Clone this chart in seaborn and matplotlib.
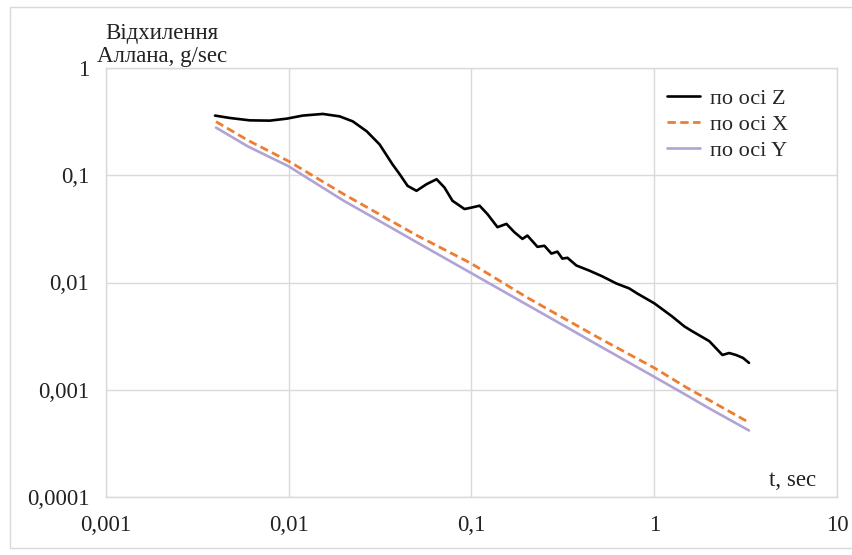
import numpy as np
import pandas as pd
import matplotlib
matplotlib.use('Agg')
import matplotlib.pyplot as plt
import seaborn as sns
from matplotlib.patches import Rectangle

# Allan deviation
tau_z = [0.00395, 0.00476, 0.00612, 0.00787, 0.00975, 0.01192, 0.01535, 0.019, 0.0224,
         0.0267, 0.0314, 0.037, 0.0405, 0.0447, 0.05, 0.0568, 0.0644, 0.0711, 0.0787,
         0.0916, 0.1012, 0.1107, 0.1222, 0.1387, 0.1553, 0.1718, 0.19, 0.2022, 0.2296,
         0.2506, 0.2737, 0.2951, 0.3142, 0.335, 0.375, 0.4416, 0.52, 0.62, 0.73, 0.807,
         1.0, 1.25, 1.46, 1.61, 2.0, 2.36, 2.57, 2.8, 3.06, 3.3]
dev_z = [0.360, 0.342, 0.325, 0.323, 0.337, 0.360, 0.373, 0.354, 0.318,
         0.257, 0.194, 0.126, 0.102, 0.0796, 0.0716, 0.0826, 0.0918, 0.0769, 0.0578,
         0.0484, 0.0502, 0.0520, 0.0435, 0.0328, 0.0352, 0.0294, 0.0255, 0.0274, 0.0215,
         0.0220, 0.0186, 0.0194, 0.0167, 0.0170, 0.0144, 0.0129, 0.0114, 0.0098, 0.0088,
         0.0079, 0.0064, 0.00484, 0.0039, 0.00352, 0.00284, 0.00211, 0.0022, 0.00211,
         0.00198, 0.00178]

tau_xy = [0.004, 0.006, 0.01, 0.02, 0.03, 0.05, 0.1, 0.2, 0.3, 0.5, 1.0, 1.5, 2.0, 3.3]
dev_x = [0.316, 0.211, 0.135, 0.0666, 0.0451, 0.0276, 0.0150, 0.0073, 0.00494, 0.00303,
         0.0016, 0.00105, 0.0008, 0.000495]
dev_y = [0.278, 0.185, 0.121, 0.0578, 0.0391, 0.0238, 0.0122, 0.00624, 0.00422, 0.00257,
         0.00132, 0.00089, 0.00067, 0.000417]

x_ticks = [0.001, 0.01, 0.1, 1, 10]
x_labels = ['0,001', '0,01', '0,1', '1', '10']
y_ticks = [0.0001, 0.001, 0.01, 0.1, 1]
y_labels = ['0,0001', '0,001', '0,01', '0,1', '1']

sns.set_style('white')
plt.rcParams['font.family'] = ['Liberation Serif', 'DejaVu Serif']

fig = plt.figure(figsize=(8.53, 5.55), dpi=100)
ax = fig.add_axes([106 / 853, 58 / 555, 731 / 853, 429 / 555])

sns.lineplot(x=tau_z, y=dev_z, ax=ax, color='black', linewidth=1.9, label='по осі Z')
sns.lineplot(x=tau_xy, y=dev_x, ax=ax, color='#ED7D31', linewidth=2.0,
             linestyle=(0, (3, 1.6)), label='по осі X')
sns.lineplot(x=tau_xy, y=dev_y, ax=ax, color='#B1A3D4', linewidth=1.9, label='по осі Y')

ax.set_xscale('log')
ax.set_yscale('log')
ax.set_xlim(0.001, 10)
ax.set_ylim(0.0001, 1)
ax.set_xticks(x_ticks)
ax.set_xticklabels(x_labels)
ax.set_yticks(y_ticks)
ax.set_yticklabels(y_labels)
ax.minorticks_off()
ax.tick_params(axis='both', length=0, labelsize=16.5, colors='#222222')
ax.tick_params(axis='x', pad=13)
ax.tick_params(axis='y', pad=12)
ax.grid(True, color='#D9D9D9', linewidth=1)
for s in ax.spines.values():
    s.set_color('#D9D9D9')
    s.set_linewidth(1)
ax.set_xlabel('')
ax.set_ylabel('')

ax.legend(loc='upper left', bbox_to_anchor=(647 / 853, 1 - 68 / 555),
          bbox_transform=fig.transFigure, frameon=False, fontsize=16,
          handlelength=1.5, handletextpad=0.45, labelspacing=0.25)

fig.text(162 / 853, 1 - 45 / 555, 'Відхилення\nАллана, g/sec', ha='center', va='center',
         fontsize=16.5, color='#222222', linespacing=1.15)
fig.text(816 / 853, 1 - 480 / 555, 't, sec', ha='right', va='center', fontsize=16.5,
         color='#222222')

fig.patches.append(Rectangle((10 / 853, 7 / 555), 850 / 853, 541 / 555,
                             transform=fig.transFigure, fill=False,
                             edgecolor='#D9D9D9', linewidth=1))

fig.savefig('out.png', dpi=100)
